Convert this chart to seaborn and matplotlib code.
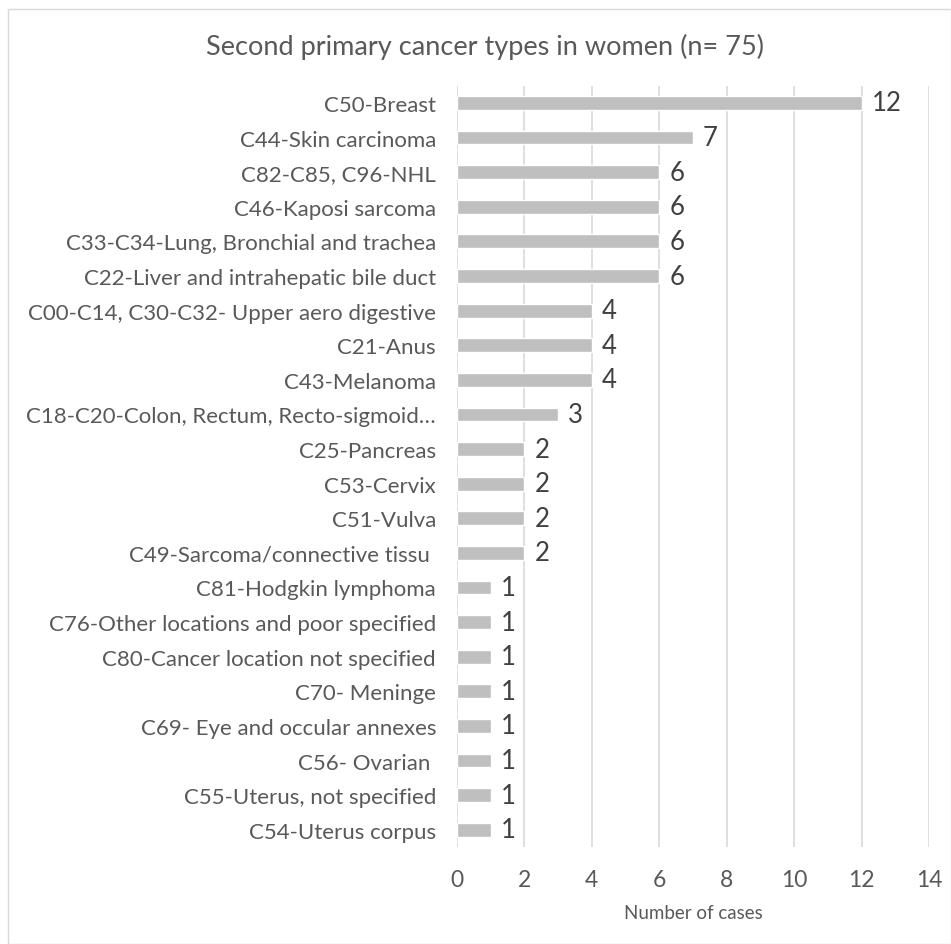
import pandas as pd
import matplotlib.pyplot as plt
import seaborn as sns

categories = [
    'C50-Breast',
    'C44-Skin carcinoma',
    'C82-C85, C96-NHL',
    'C46-Kaposi sarcoma',
    'C33-C34-Lung, Bronchial and trachea',
    'C22-Liver and intrahepatic bile duct',
    'C00-C14, C30-C32- Upper aero digestive',
    'C21-Anus',
    'C43-Melanoma',
    'C18-C20-Colon, Rectum, Recto-sigmoid\u2026',
    'C25-Pancreas',
    'C53-Cervix',
    'C51-Vulva',
    'C49-Sarcoma/connective tissu ',
    'C81-Hodgkin lymphoma',
    'C76-Other locations and poor specified',
    'C80-Cancer location not specified',
    'C70- Meninge',
    'C69- Eye and occular annexes',
    'C56- Ovarian ',
    'C55-Uterus, not specified',
    'C54-Uterus corpus',
]
cases = [12, 7, 6, 6, 6, 6, 4, 4, 4, 3, 2, 2, 2, 2, 1, 1, 1, 1, 1, 1, 1, 1]
x_ticks = [0, 2, 4, 6, 8, 10, 12, 14]

df = pd.DataFrame({'category': categories, 'cases': cases})

sns.set_style('white')
plt.rcParams['font.family'] = ['Lato', 'DejaVu Sans']

fig = plt.figure(figsize=(9.51, 9.45), dpi=100)
ax = fig.add_axes([0.4805, 0.1026, 0.4964, 0.8057])

sns.barplot(data=df, x='cases', y='category', color='#bfbfbf', width=0.4,
            saturation=1, ax=ax, zorder=3)

# value labels next to bars
for i, v in enumerate(cases):
    ax.text(v + 0.3, i, str(v), va='center', ha='left', fontsize=18.5, color='#404040')

ax.set_xlim(0, 14)
ax.set_xticks(x_ticks)
ax.set_xticklabels([str(t) for t in x_ticks], fontsize=16.5, color='#595959')
ax.tick_params(axis='x', length=0, pad=16)
ax.tick_params(axis='y', length=0, pad=15, labelsize=16, labelcolor='#595959')
ax.xaxis.grid(True, color='#d9d9d9', linewidth=1.2, zorder=0)
ax.set_axisbelow(True)
for s in ax.spines.values():
    s.set_visible(False)
ax.set_ylabel('')
ax.set_xlabel('Number of cases', fontsize=13.5, color='#595959', labelpad=10)

fig.text(0.51, 0.95, 'Second primary cancer types in women (n= 75)', ha='center',
         va='center', fontsize=19.5, color='#595959')

border = plt.Rectangle((0.008, 0.0), 0.992, 0.989, transform=fig.transFigure,
                       fill=False, edgecolor='#d9d9d9', linewidth=1)
fig.patches.append(border)

fig.savefig('out.png', dpi=100)
